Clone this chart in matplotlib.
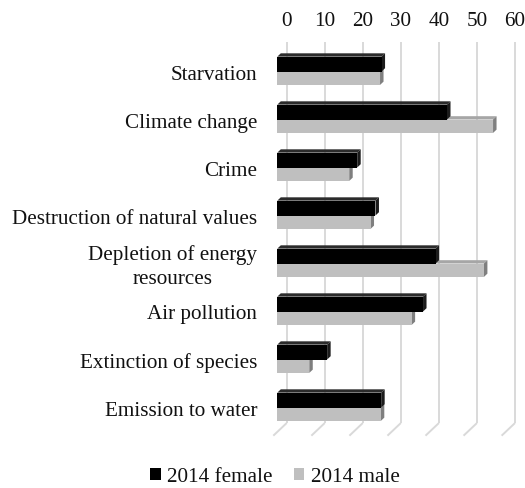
import matplotlib
matplotlib.use("Agg")
import matplotlib.pyplot as plt
from matplotlib.patches import Polygon, Rectangle, Patch

# Survey data: share of respondents worried about each issue (%)
categories = [
    "Starvation",
    "Climate change",
    "Crime",
    "Destruction of natural values",
    "Depletion of energy\nresources",
    "Air pollution",
    "Extinction of species",
    "Emission to water",
]
female_2014 = [27.4, 44.6, 21.0, 25.8, 41.6, 38.3, 13.1, 27.3]
male_2014 = [27.0, 56.7, 18.9, 24.5, 54.3, 35.3, 8.4, 27.2]
ticks = [0, 10, 20, 30, 40, 50, 60]
series_names = ["2014 female", "2014 male"]

plt.rcParams["font.family"] = ["Liberation Serif", "DejaVu Serif"]
FS = 15.2
TXT = "#111111"

W, H = 525, 488
fig = plt.figure(figsize=(W / 100, H / 100), dpi=100)
ax = fig.add_axes([0, 0, 1, 1])

# Scale: value 0 of the bar front plane sits at X0 px, SX px per unit;
# category i sits at Y0 + i*SY px from the top.
X0, SX = 277.3, 3.805
Y0, SY = 71.5, 48.0
ax.set_xlim(-X0 / SX, (W - X0) / SX)
ax.set_ylim((H - Y0) / SY, -Y0 / SY)
ax.axis("off")


def shift(depth_px):
    """Oblique offset (data units) for a depth given in horizontal pixels."""
    return depth_px / SX, -0.945 * depth_px / SY


# Back wall / floor geometry (depth in px, measured from the bar plane)
WALL_D = 9.4
FLOOR_FRONT_D = -4.0
BAR_D = 3.5
FLOOR_Y = (431.9 - Y0) / SY
WALL_TOP_Y = (50.9 - Y0) / SY

grid_c = "#d9d9d9"
wx, wy = shift(WALL_D)
fx, fy = shift(FLOOR_FRONT_D)
for t in ticks:
    ax.plot([t + wx, t + wx], [WALL_TOP_Y + wy, FLOOR_Y + wy],
            color=grid_c, lw=1.4, zorder=1, solid_capstyle="butt")
    ax.plot([t + wx, t + fx], [FLOOR_Y + wy, FLOOR_Y + fy],
            color=grid_c, lw=1.4, zorder=1, solid_capstyle="butt")
    ax.text(t + wx, (21 - Y0) / SY, str(t), ha="center", va="center",
            fontsize=FS, color=TXT)


def bar3d(value, y_top, y_bot, colors, z):
    front, top, side = colors
    dx, dy = shift(BAR_D)
    ax.add_patch(Polygon([(0, y_top), (value, y_top), (value + dx, y_top + dy),
                          (dx, y_top + dy)], closed=True, fc=top, ec="none", zorder=z))
    ax.add_patch(Polygon([(value, y_top), (value, y_bot), (value + dx, y_bot + dy),
                          (value + dx, y_top + dy)], closed=True, fc=side, ec="none", zorder=z))
    ax.add_patch(Rectangle((0, y_top), value, y_bot - y_top, fc=front, ec="none", zorder=z))


black_cols = ("#000000", "#2b2b2b", "#1c1c1c")
gray_cols = ("#bfbfbf", "#a6a6a6", "#7f7f7f")
H_F, H_M = 0.31, 0.28

for i, (f, m) in enumerate(zip(female_2014, male_2014)):
    bar3d(m, i, i + H_M, gray_cols, 2 + 2 * i)
    bar3d(f, i - H_F, i, black_cols, 3 + 2 * i)
    ax.text((257 - X0) / SX, i + 3.5 / SY, categories[i], ha="right", va="center",
            multialignment="center", fontsize=FS, color=TXT, linespacing=1.3)

handles = [Patch(fc=black_cols[0], ec="none"), Patch(fc=gray_cols[0], ec="none")]
ax.legend(handles, series_names, loc="center", bbox_to_anchor=(275 / W, 1 - 477 / H),
          ncol=2, frameon=False, fontsize=FS, handlelength=0.5, handleheight=0.5,
          handletextpad=0.3, columnspacing=1.0, labelcolor=TXT,
          borderpad=0.1)

fig.savefig("out.png", dpi=100)
